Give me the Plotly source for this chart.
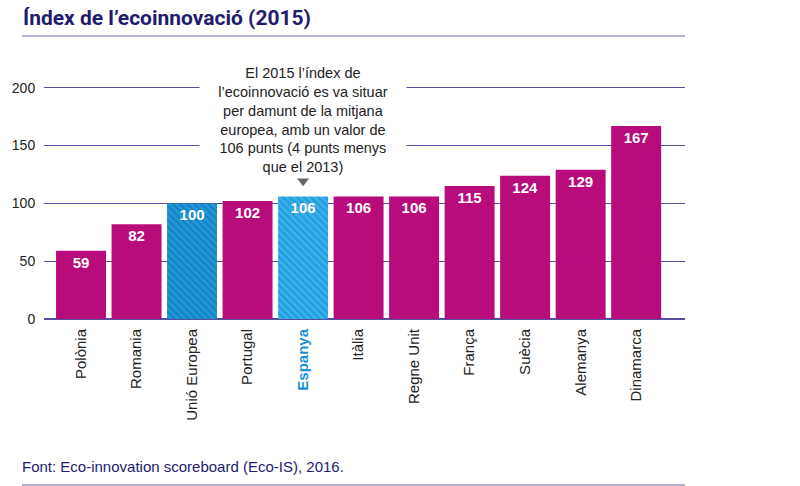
import plotly.graph_objects as go

# dades de l'index d'ecoinnovacio 2015
paisos = ['Polònia', 'Romania', 'Unió Europea', 'Portugal', 'Espanya', 'Itàlia',
          'Regne Unit', 'França', 'Suècia', 'Alemanya', 'Dinamarca']
valors = [59, 82, 100, 102, 106, 106, 106, 115, 124, 129, 167]
y_ticks = [0, 50, 100, 150, 200]

MAGENTA = '#b80c7c'
FOSC = '#231c6e'
GRID = '#5550a0'

W, H = 800, 486
ML, MR, MT, MB = 44, 115, 82, 167

def px_x(x):
    # pixel -> coordenada paper
    return (x - ML) / (W - ML - MR)

def px_y(y):
    return 1 - (y - MT) / (H - MT - MB)

# etiquetes de l'eix x, Espanya destacada
etiquetes = []
for p in paisos:
    if p == 'Espanya':
        etiquetes.append("<b><span style='color:#1b8fd6'>" + p + "</span></b>")
    else:
        etiquetes.append(p)

# estil de cada grup de barres: (color, color ratlles)
estils = {
    'altres': (MAGENTA, None),
    'Unió Europea': ('#1e9ad8', '#1566ab'),
    'Espanya': ('#1f9fe0', '#66c4f2'),
}

fig = go.Figure()

for grup, (col, ratlla) in estils.items():
    if grup == 'altres':
        xs = [p for p in paisos if p not in ('Unió Europea', 'Espanya')]
    else:
        xs = [grup]
    ys = [valors[paisos.index(p)] for p in xs]
    marker = dict(color=col, line=dict(width=0))
    if ratlla:
        marker['pattern'] = dict(shape='\\', fgcolor=ratlla, bgcolor=col,
                                 size=5, solidity=0.45, fillmode='overlay')
    fig.add_trace(go.Bar(
        x=xs, y=ys, marker=marker,
        text=[str(v) for v in ys],
        textposition='inside', insidetextanchor='end',
        textfont=dict(family='Liberation Sans', size=15, color='white', weight='bold'),
        hoverinfo='skip', showlegend=False,
    ))

# triangle que assenyala Espanya
fig.add_trace(go.Scatter(
    x=['Espanya'], y=[valors[4] + 14], mode='markers',
    marker=dict(symbol='triangle-down', size=12, color='#666666'),
    hoverinfo='skip', showlegend=False,
))

# nota amb fons blanc que talla la graella
fig.add_annotation(
    x='Espanya', y=px_y(120), xref='x', yref='paper',
    yanchor='middle', xanchor='center', showarrow=False,
    text="El 2015 l’índex de<br>l’ecoinnovació es va situar<br>per damunt de la mitjana<br>"
         "europea, amb un valor de<br>106 punts (4 punts menys<br>que el 2013)",
    font=dict(family='Liberation Sans', size=14.5, color='#222222'),
    align='center', bgcolor='white', borderpad=3, width=200,
)

# titol i font
fig.add_annotation(x=px_x(21), y=px_y(18), xref='paper', yref='paper', showarrow=False,
                   text='<b>Índex de l’ecoinnovació (2015)</b>', xanchor='left', yanchor='middle',
                   font=dict(family='Roboto', size=21, color=FOSC))
fig.add_annotation(x=px_x(20), y=px_y(466), xref='paper', yref='paper', showarrow=False,
                   text='Font: Eco-innovation scoreboard (Eco-IS), 2016.', xanchor='left', yanchor='middle',
                   font=dict(family='Liberation Sans', size=15, color=FOSC))

fig.update_layout(
    width=W, height=H,
    margin=dict(l=ML, r=MR, t=MT, b=MB),
    plot_bgcolor='white', paper_bgcolor='white',
    bargap=0.1, barmode='overlay',
    xaxis=dict(range=[-0.667, 10.88], tickmode='array', tickvals=paisos, ticktext=etiquetes,
               categoryorder='array', categoryarray=paisos,
               tickangle=-90, showgrid=False, showline=False, zeroline=False, automargin=False,
               tickfont=dict(family='Liberation Sans', size=15, color='#222222'),
               ticks='outside', ticklen=3, tickcolor='white'),
    yaxis=dict(range=[0, 205], tickvals=y_ticks, showgrid=True, gridcolor=GRID, gridwidth=1,
               zeroline=True, zerolinecolor=GRID, zerolinewidth=1.5, showline=False,
               automargin=False,
               tickfont=dict(family='Liberation Sans', size=14, color='#222222'),
               ticks='outside', ticklen=5, tickcolor='white'),
    shapes=[
        dict(type='line', xref='paper', yref='paper', x0=px_x(22), x1=px_x(685),
             y0=px_y(36), y1=px_y(36), line=dict(color='#9c99c9', width=1.5)),
        dict(type='line', xref='paper', yref='paper', x0=px_x(22), x1=px_x(685),
             y0=px_y(485), y1=px_y(485), line=dict(color='#9c99c9', width=1.5)),
    ],
)

fig.write_html('out.html', config={'displayModeBar': False},
               post_script="document.body.style.margin='0';")
